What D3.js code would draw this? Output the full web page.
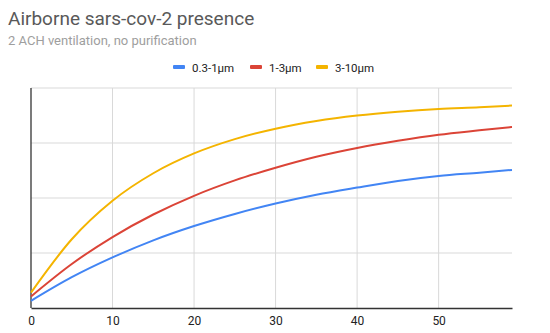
<!DOCTYPE html>
<html><head><meta charset="utf-8">
<script src="https://cdn.jsdelivr.net/npm/d3@7"></script>
<style>body{margin:0;background:#fff}svg{display:block;font-family:Roboto,Arial,sans-serif}</style>
</head><body><svg id="c" width="550" height="333"></svg>
<script>
const minutes = [0,5,10,15,20,25,30,35,40,45,50,55,59];
const seriesNames = ["0.3-1μm","1-3μm","3-10μm"];
const fine   = [0.13,0.56,0.92,1.23,1.49,1.71,1.90,2.06,2.19,2.31,2.40,2.46,2.51];
const medium = [0.21,0.80,1.29,1.70,2.04,2.32,2.55,2.75,2.91,3.04,3.15,3.23,3.29];
const coarse = [0.28,1.25,1.95,2.45,2.81,3.07,3.26,3.40,3.50,3.57,3.62,3.65,3.68];
const colors = ["#4285F4","#DB4437","#F4B400"];
const xTicks = [0,10,20,30,40,50];
const yTicks = [1,2,3,4];

const svg = d3.select("#c");
const m = {l:31, r:38, t:88, b:25};
const W = 550, H = 333;
const x = d3.scaleLinear().domain([0,59]).range([m.l, W-m.r]);
const y = d3.scaleLinear().domain([0,4]).range([308, 88]);

svg.append("text").attr("x",8).attr("y",25).attr("font-size",19).attr("fill","#595959").text("Airborne sars-cov-2 presence");
svg.append("text").attr("x",8).attr("y",45).attr("font-size",13).attr("fill","#9e9e9e").text("2 ACH ventilation, no purification");

// grid
svg.append("g").selectAll("line").data(yTicks).join("line")
  .attr("x1",x(0)).attr("x2",x(59)).attr("y1",d=>y(d)).attr("y2",d=>y(d))
  .attr("stroke","#d9d9d9").attr("stroke-width",1);
svg.append("g").selectAll("line").data(xTicks.filter(d=>d>0)).join("line")
  .attr("x1",d=>x(d)).attr("x2",d=>x(d)).attr("y1",y(4)).attr("y2",y(0))
  .attr("stroke","#d9d9d9").attr("stroke-width",1);

// axes
const xa = svg.append("g").attr("transform",`translate(0,${y(0)})`)
  .call(d3.axisBottom(x).tickValues(xTicks).tickSize(0).tickPadding(8).tickFormat(d3.format("d")));
xa.select(".domain").attr("stroke","#333").attr("stroke-width",1.3);
xa.selectAll("text").attr("font-size",12).attr("fill","#222").attr("font-family","Roboto,Arial,sans-serif");
svg.append("line").attr("x1",x(0)).attr("x2",x(0)).attr("y1",y(4)).attr("y2",y(0)).attr("stroke","#333").attr("stroke-width",1.3);

// lines
const all = [fine, medium, coarse];
const line = d3.line().x((d,i)=>x(minutes[i])).y(d=>y(d)).curve(d3.curveMonotoneX);
svg.append("g").selectAll("path").data(all).join("path")
  .attr("d",line).attr("fill","none").attr("stroke",(d,i)=>colors[i]).attr("stroke-width",2);

// legend
const lx = [173,250,316];
const lg = svg.append("g");
seriesNames.forEach((n,i)=>{
  lg.append("rect").attr("x",lx[i]).attr("y",65).attr("width",12).attr("height",4).attr("rx",1).attr("fill",colors[i]);
  lg.append("text").attr("x",lx[i]+19).attr("y",71.5).attr("font-size",11.5).attr("fill","#222").text(n);
});
</script></body></html>
